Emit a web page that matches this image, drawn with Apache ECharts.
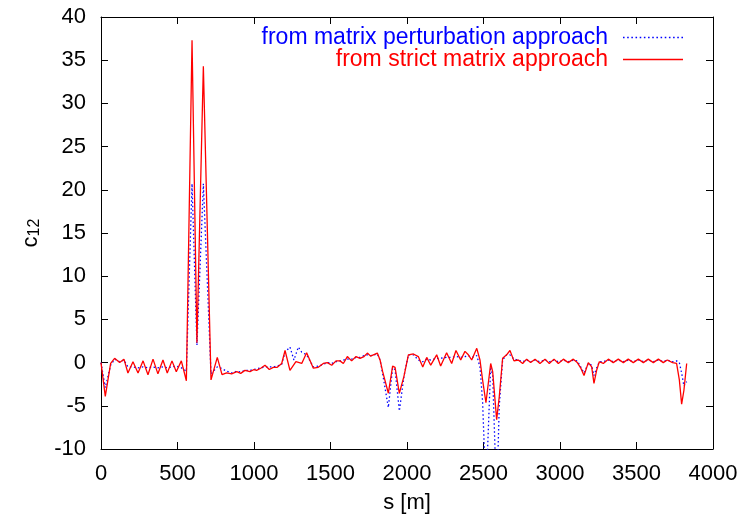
<!DOCTYPE html>
<html>
<head>
<meta charset="utf-8">
<script src="https://cdn.jsdelivr.net/npm/echarts@6/dist/echarts.min.js"></script>
<style>html,body{margin:0;padding:0;background:#fff}#c{width:745px;height:525px}</style>
</head>
<body>
<div id="c"></div>
<script>
// s [m] positions and c12 values (strict matrix approach, red)
var strictS = [0,28,63,89,122,150,176,209,242,275,307,340,372,405,433,464,492,525,558,595,627,669,719,760,791,821,854,887,913,941,974,1000,1017,1044,1072,1100,1126,1152,1181,1203,1235,1274,1312,1344,1388,1420,1453,1479,1508,1536,1562,1584,1610,1638,1667,1693,1719,1741,1762,1806,1824,1841,1878,1906,1922,1950,1980,2009,2042,2074,2103,2129,2155,2194,2220,2259,2292,2320,2351,2379,2401,2423,2456,2477,2494,2516,2547,2560,2586,2603,2625,2651,2673,2699,2727,2756,2782,2808,2837,2869,2902,2930,2961,2989,3022,3054,3087,3113,3135,3157,3185,3207,3222,3240,3257,3283,3316,3348,3381,3414,3446,3479,3512,3545,3577,3610,3643,3675,3701,3736,3762,3780,3795,3810,3828];
var strictC12 = [0,-3.9,-0.1,0.5,0,0.4,-1.2,0.1,-1.2,0.2,-1.4,0.4,-1.3,0.3,-1.2,0.2,-1.05,0.2,-2.1,37.3,2.3,34.3,-2.0,0.6,-1.4,-1.2,-1.3,-1.05,-1.25,-0.9,-1.05,-0.8,-0.9,-0.65,-0.3,-0.8,-0.55,-0.55,-0.1,1.4,-0.9,0.1,-0.1,1.15,-0.65,-0.55,-0.1,0,-0.3,0.2,0.2,-0.1,0.7,0.2,0.7,0.5,0.7,1.1,0.75,1.1,0.3,-1.05,-3.55,-0.4,-0.55,-3.55,-1.6,0.9,1.0,0.7,-0.5,0.6,-0.3,0.9,-0.4,1.15,-0.1,1.4,0.3,1.3,0.9,0.3,1.65,0.3,-2.0,-4.65,-0.1,-1.05,-6.6,-3.95,0.5,0.9,1.4,0.2,0.3,-0.1,0.4,0,0.4,-0.1,0.4,-0.1,0.4,-0.1,0.4,0,0.4,0,-0.6,-1.5,0,-0.5,-2.4,-0.85,0.1,-0.1,0.4,0,0.4,0,0.4,0,0.4,0,0.4,0,0.4,0,0.3,0,-0.1,-2.0,-4.8,-3.2,-0.1];

// s [m] positions and c12 values (matrix perturbation approach, blue)
var pertS = [0,28,63,89,122,150,176,209,242,275,307,340,372,405,433,464,492,525,558,595,627,669,719,760,791,821,854,887,913,941,974,1000,1044,1072,1100,1126,1152,1181,1203,1235,1261,1290,1312,1344,1388,1420,1453,1479,1508,1536,1562,1610,1638,1667,1693,1719,1741,1762,1806,1824,1841,1878,1906,1922,1950,1980,2009,2042,2074,2103,2129,2155,2194,2220,2259,2292,2320,2351,2379,2401,2423,2456,2477,2494,2516,2547,2560,2586,2603,2625,2651,2673,2699,2727,2756,2782,2808,2837,2869,2902,2930,2961,2989,3022,3054,3087,3113,3135,3157,3185,3207,3222,3240,3257,3283,3316,3348,3381,3414,3446,3479,3512,3545,3577,3610,3643,3675,3701,3736,3762,3780,3795,3810,3828];
var pertC12 = [0,-2.9,-0.3,0.4,0.1,0.3,-0.5,-0.5,-0.6,-0.5,-0.6,-0.5,-0.6,-0.5,-0.6,-0.5,-0.4,-0.6,-1.0,20.7,2.0,20.7,-1.3,-0.5,-0.7,-1.0,-1.2,-1.0,-1.1,-0.9,-0.9,-0.8,-0.6,-0.5,-0.5,-0.5,-0.4,-0.2,1.2,1.8,0.3,1.8,1.2,0.9,-0.5,-0.4,-0.2,0,-0.1,0.1,0.2,0.4,0.4,0.6,0.6,0.8,0.9,0.8,1.0,0.3,-1.3,-5.2,-0.6,-0.8,-5.6,-1.6,0.9,0.9,0.3,0.1,0.4,0.3,0.5,0.5,0.6,0.6,0.7,0.6,0.7,0.8,0.6,0.8,-0.5,-4.5,-15,-0.5,-1.5,-16,-5,0.3,0.9,0.9,0.4,0.3,0.1,0.3,0.1,0.3,0.1,0.3,0.1,0.3,0.1,0.3,0.1,0.3,0.2,-0.5,-1.2,-0.1,-0.3,-1.5,-0.6,0.1,0.1,0.3,0.1,0.3,0.1,0.3,0.1,0.3,0.1,0.3,0.1,0.3,0.1,0.3,0.1,0.2,0,-1.2,-2.7,-2.2,-0.1];

var xTicks = [0,500,1000,1500,2000,2500,3000,3500,4000];
var yTicks = [-10,-5,0,5,10,15,20,25,30,35,40];
var pertName = 'from matrix perturbation approach';
var strictName = 'from strict matrix approach';

function pairs(xs, ys){ return xs.map(function(x,i){ return [x, ys[i]]; }); }

var FONT = 'Liberation Sans';
var dots = 'path://';
for (var k = 0; k < 15; k++) { dots += 'M' + (k*4) + ',0h1.5v1.5h-1.5z'; }

var chart = echarts.init(document.getElementById('c'), null, {renderer:'canvas'});
var axisBase = {
  axisLine:{show:true, onZero:false, lineStyle:{color:'#000', width:1}},
  axisTick:{show:true, inside:true, length:7, lineStyle:{color:'#000'}},
  splitLine:{show:false}
};
function plain(v){ return String(v); }
chart.setOption({
  animation:false,
  backgroundColor:'#fff',
  grid:{left:101, right:32, top:17, bottom:76, containLabel:false},
  legend:[
    {right:62, top:26, orient:'horizontal', align:'right', padding:0,
     itemWidth:60, itemHeight:2, icon:dots,
     textStyle:{fontFamily:FONT, fontSize:23, color:'#0000ff', padding:[0,10,0,0]},
     data:[{name:pertName, itemStyle:{color:'#0000ff'}}]},
    {right:62, top:48, orient:'horizontal', align:'right', padding:0,
     itemWidth:60, itemHeight:1.5, icon:'rect',
     textStyle:{fontFamily:FONT, fontSize:23, color:'#ff0000', padding:[0,10,0,0]},
     data:[{name:strictName, itemStyle:{color:'#ff0000'}}]}
  ],
  xAxis:[
    Object.assign({type:'value', position:'bottom', min:0, max:4000, interval:500,
      name:'s [m]', nameLocation:'middle', nameGap:43,
      nameTextStyle:{fontFamily:FONT, fontSize:22, color:'#000'},
      axisLabel:{fontFamily:FONT, fontSize:22, color:'#000', margin:14, formatter:plain}}, axisBase),
    Object.assign({type:'value', position:'top', min:0, max:4000, interval:500,
      axisLabel:{show:false}}, axisBase)
  ],
  yAxis:[
    Object.assign({type:'value', position:'left', min:-10, max:40, interval:5,
      name:'c{sub|12}', nameLocation:'middle', nameGap:58, nameRotate:90,
      nameTextStyle:{fontFamily:FONT, fontSize:22, color:'#000',
        rich:{sub:{fontFamily:FONT, fontSize:16, color:'#000', verticalAlign:'bottom', padding:[8,0,0,0]}}},
      axisLabel:{fontFamily:FONT, fontSize:22, color:'#000', margin:15, formatter:plain}}, axisBase),
    Object.assign({type:'value', position:'right', min:-10, max:40, interval:5,
      axisLabel:{show:false}}, axisBase)
  ],
  series:[
    {name:pertName, type:'line', xAxisIndex:0, yAxisIndex:0, data:pairs(pertS, pertC12),
     showSymbol:false, symbol:'none', clip:true,
     lineStyle:{color:'#0000ff', width:1.3, type:[1.5,2.5]}, itemStyle:{color:'#0000ff'}},
    {name:strictName, type:'line', xAxisIndex:0, yAxisIndex:0, data:pairs(strictS, strictC12),
     showSymbol:false, symbol:'none', clip:true,
     lineStyle:{color:'#ff0000', width:1.3}, itemStyle:{color:'#ff0000'}}
  ]
});
</script>
</body>
</html>
